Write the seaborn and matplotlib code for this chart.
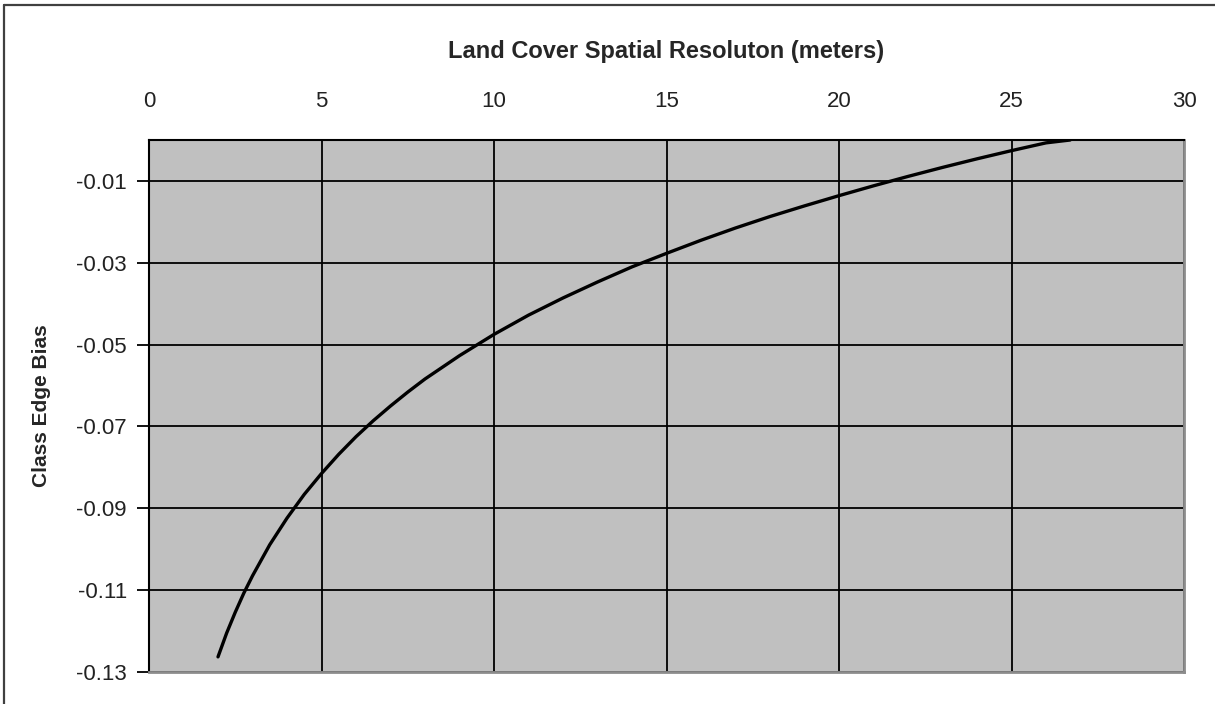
import matplotlib
matplotlib.use("Agg")
import matplotlib.pyplot as plt
import seaborn as sns
import pandas as pd
from matplotlib.lines import Line2D

# Data
resolution = [2, 2.25, 2.5, 2.75, 3, 3.5, 4, 4.5, 5, 5.5, 6, 6.5, 7, 7.5, 8,
              9, 10, 11, 12, 13, 14, 15, 16, 17, 18, 19, 20, 21, 22, 23, 24,
              25, 26, 26.7]
edge_bias = [-0.1263, -0.1205, -0.1154, -0.1107, -0.1065, -0.0989, -0.0924,
             -0.0866, -0.0815, -0.0768, -0.0725, -0.0686, -0.0650, -0.0616,
             -0.0584, -0.0527, -0.0475, -0.0428, -0.0386, -0.0347, -0.0310,
             -0.0277, -0.0245, -0.0215, -0.0187, -0.0161, -0.0136, -0.0112,
             -0.0089, -0.0067, -0.0046, -0.0026, -0.0007, 0.0]
x_ticks = [0, 5, 10, 15, 20, 25, 30]
y_ticks = [-0.13, -0.11, -0.09, -0.07, -0.05, -0.03, -0.01]
x_title = "Land Cover Spatial Resoluton (meters)"
y_title = "Class Edge Bias"

df = pd.DataFrame({"res": resolution, "bias": edge_bias})

sns.set_style("white")
plt.rcParams["font.family"] = ["Liberation Sans", "DejaVu Sans"]

fig = plt.figure(figsize=(12.15, 7.04), dpi=100)
W, H = 1215, 704
left, right, top, bottom = 149, 1184, 140, 672
ax = fig.add_axes([left / W, 1 - bottom / H, (right - left) / W, (bottom - top) / H])
ax.set_facecolor("#C0C0C0")

ax.set_xlim(0, 30)
ax.set_ylim(-0.13, 0.0)
ax.set_xticks(x_ticks)
ax.set_yticks(y_ticks)
ax.set_xticklabels([str(v) for v in x_ticks])
ax.set_yticklabels([f"{v:.2f}" for v in y_ticks])

ax.grid(True, color="black", linewidth=1.3)
ax.set_axisbelow(True)

sns.lineplot(data=df, x="res", y="bias", ax=ax, color="black", linewidth=2.4,
             zorder=5)

ax.xaxis.tick_top()
ax.xaxis.set_label_position("top")
ax.tick_params(axis="x", length=0, pad=20, labelsize=16, labelcolor="#222222")
ax.tick_params(axis="y", length=9, width=1.3, color="black", pad=7,
               labelsize=16, labelcolor="#222222", left=True)

ax.set_xlabel(x_title, fontsize=17, fontweight="bold", labelpad=24)
ax.set_ylabel(y_title, fontsize=15, fontweight="bold", labelpad=18)

for s in ["left", "top"]:
    ax.spines[s].set_color("black")
    ax.spines[s].set_linewidth(1.5)
for s in ["right", "bottom"]:
    ax.spines[s].set_color("#8c8c8c")
    ax.spines[s].set_linewidth(2)

# outer chart frame (left and top visible in reference)
fig.add_artist(Line2D([4 / W, 4 / W], [0, 1 - 5 / H], transform=fig.transFigure,
                      color="#404040", linewidth=1.6))
fig.add_artist(Line2D([4 / W, 1], [1 - 5 / H, 1 - 5 / H], transform=fig.transFigure,
                      color="#404040", linewidth=1.6))

fig.savefig("out.png", dpi=100)
